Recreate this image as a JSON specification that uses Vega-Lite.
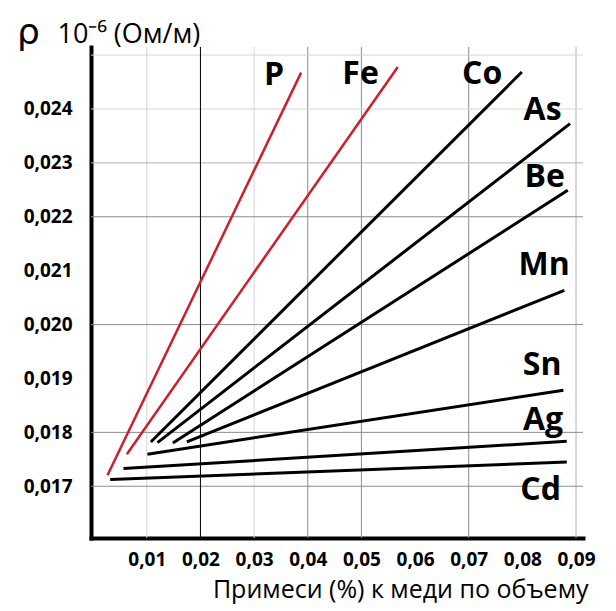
{
  "$schema": "https://vega.github.io/schema/vega-lite/v6.json",
  "width": 492,
  "height": 491,
  "autosize": {"type": "none"},
  "padding": {"left": 91, "top": 47, "right": 33, "bottom": 73},
  "background": "white",
  "title": {"text": "ρ", "anchor": "start", "frame": "group", "dx": -74, "dy": 60, "offset": 0, "baseline": "alphabetic", "font": "DejaVu Sans", "fontSize": 36, "fontWeight": "normal", "color": "black"},
  "config": {
    "view": {"stroke": null},
    "axis": {"labelFont": "Open Sans", "labelFontWeight": "bold", "labelFontSize": 19, "labelColor": "black", "titleFont": "Open Sans", "titleFontWeight": "normal", "titleColor": "black", "domainColor": "black", "domainWidth": 4, "domainCap": "square", "ticks": false, "tickSize": 0, "grid": false, "zindex": 1}
  },
  "datasets": {
    "lines": [
      {"metal": "P", "x": 0.00267, "y": 0.017204}, {"metal": "P", "x": 0.03876, "y": 0.024675},
      {"metal": "Fe", "x": 0.00628, "y": 0.017594}, {"metal": "Fe", "x": 0.05678, "y": 0.024779},
      {"metal": "Co", "x": 0.01075, "y": 0.017822}, {"metal": "Co", "x": 0.0799, "y": 0.024687},
      {"metal": "As", "x": 0.01198, "y": 0.01781}, {"metal": "As", "x": 0.08889, "y": 0.023729},
      {"metal": "Be", "x": 0.01485, "y": 0.017803}, {"metal": "Be", "x": 0.08846, "y": 0.022492},
      {"metal": "Mn", "x": 0.01746, "y": 0.017822}, {"metal": "Mn", "x": 0.08783, "y": 0.020636},
      {"metal": "Sn", "x": 0.01012, "y": 0.017594}, {"metal": "Sn", "x": 0.08765, "y": 0.018781},
      {"metal": "Ag", "x": 0.00565, "y": 0.017328}, {"metal": "Ag", "x": 0.08828, "y": 0.017835},
      {"metal": "Cd", "x": 0.00317, "y": 0.017124}, {"metal": "Cd", "x": 0.08828, "y": 0.017451}
    ],
    "labels": [
      {"metal": "P", "x": 0.03373, "y": 0.02444},
      {"metal": "Fe", "x": 0.04985, "y": 0.024471},
      {"metal": "Co", "x": 0.07249, "y": 0.024471},
      {"metal": "As", "x": 0.08377, "y": 0.02379},
      {"metal": "Be", "x": 0.08414, "y": 0.022553},
      {"metal": "Mn", "x": 0.08405, "y": 0.020915},
      {"metal": "Sn", "x": 0.08368, "y": 0.019059},
      {"metal": "Ag", "x": 0.08386, "y": 0.018039},
      {"metal": "Cd", "x": 0.0834, "y": 0.01674}
    ],
    "vgrid": [
      {"x": 0.01, "level": "light"}, {"x": 0.02, "level": "dark"}, {"x": 0.03, "level": "light"},
      {"x": 0.04, "level": "mid"}, {"x": 0.05, "level": "mid"}, {"x": 0.07, "level": "mid"}, {"x": 0.09, "level": "lightmid"}
    ],
    "hgrid": [
      {"y": 0.017, "level": "mid"}, {"y": 0.018, "level": "mid"}, {"y": 0.02, "level": "mid"}, {"y": 0.022, "level": "mid"},
      {"y": 0.023, "level": "lightmid"}, {"y": 0.024, "level": "light"}, {"y": 0.025, "level": "light"}
    ]
  },
  "layer": [
    {
      "data": {"name": "vgrid"},
      "transform": [{"filter": "datum.level === 'light'"}],
      "mark": {"type": "rule", "color": "#d6d6d6", "strokeWidth": 1},
      "encoding": {"x": {"field": "x", "type": "quantitative", "scale": {"domain": [-0.0004, 0.0913], "nice": false, "zero": false}}}
    },
    {
      "data": {"name": "vgrid"},
      "transform": [{"filter": "datum.level === 'lightmid'"}],
      "mark": {"type": "rule", "color": "#b0b0b0", "strokeWidth": 1},
      "encoding": {"x": {"field": "x", "type": "quantitative", "scale": {"domain": [-0.0004, 0.0913], "nice": false, "zero": false}}}
    },
    {
      "data": {"name": "vgrid"},
      "transform": [{"filter": "datum.level === 'mid'"}],
      "mark": {"type": "rule", "color": "#8c8c8c", "strokeWidth": 1},
      "encoding": {"x": {"field": "x", "type": "quantitative", "scale": {"domain": [-0.0004, 0.0913], "nice": false, "zero": false}}}
    },
    {
      "data": {"name": "hgrid"},
      "transform": [{"filter": "datum.level === 'light'"}],
      "mark": {"type": "rule", "color": "#d6d6d6", "strokeWidth": 1},
      "encoding": {"y": {"field": "y", "type": "quantitative", "scale": {"domain": [0.01604, 0.02515], "nice": false, "zero": false}}}
    },
    {
      "data": {"name": "hgrid"},
      "transform": [{"filter": "datum.level === 'lightmid'"}],
      "mark": {"type": "rule", "color": "#b0b0b0", "strokeWidth": 1},
      "encoding": {"y": {"field": "y", "type": "quantitative", "scale": {"domain": [0.01604, 0.02515], "nice": false, "zero": false}}}
    },
    {
      "data": {"name": "hgrid"},
      "transform": [{"filter": "datum.level === 'mid'"}],
      "mark": {"type": "rule", "color": "#8c8c8c", "strokeWidth": 1},
      "encoding": {"y": {"field": "y", "type": "quantitative", "scale": {"domain": [0.01604, 0.02515], "nice": false, "zero": false}}}
    },
    {
      "data": {"name": "vgrid"},
      "transform": [{"filter": "datum.level === 'dark'"}],
      "mark": {"type": "rule", "color": "#000000", "strokeWidth": 1},
      "encoding": {"x": {"field": "x", "type": "quantitative", "scale": {"domain": [-0.0004, 0.0913], "nice": false, "zero": false}}}
    },
    {
      "data": {"name": "lines"},
      "transform": [{"filter": "datum.metal === 'P' || datum.metal === 'Fe'"}],
      "mark": {"type": "line", "color": "#cc1f2d", "strokeWidth": 2.5},
      "encoding": {
        "x": {"field": "x", "type": "quantitative", "scale": {"domain": [-0.0004, 0.0913], "nice": false, "zero": false}},
        "y": {"field": "y", "type": "quantitative", "scale": {"domain": [0.01604, 0.02515], "nice": false, "zero": false}},
        "detail": {"field": "metal"}
      }
    },
    {
      "data": {"name": "lines"},
      "transform": [{"filter": "datum.metal !== 'P' && datum.metal !== 'Fe'"}],
      "mark": {"type": "line", "color": "#000000", "strokeWidth": 3},
      "encoding": {
        "x": {"field": "x", "type": "quantitative", "scale": {"domain": [-0.0004, 0.0913], "nice": false, "zero": false},
          "axis": {"values": [0.01, 0.02, 0.03, 0.04, 0.05, 0.06, 0.07, 0.08, 0.09], "labelExpr": "replace(format(datum.value, '.2f'), '.', ',')", "labelPadding": 12, "labelFlush": false, "labelOverlap": false,
            "title": "Примеси (%) к меди по объему", "titleFontSize": 25, "titleX": 497, "titleY": 59, "titleAlign": "right", "titleAnchor": "end", "titleBaseline": "alphabetic"}},
        "y": {"field": "y", "type": "quantitative", "scale": {"domain": [0.01604, 0.02515], "nice": false, "zero": false},
          "axis": {"values": [0.017, 0.018, 0.019, 0.02, 0.021, 0.022, 0.023, 0.024], "labelExpr": "replace(format(datum.value, '.3f'), '.', ',')", "labelPadding": 19, "labelFlush": false, "labelOverlap": false,
            "title": "10⁻⁶ (Ом/м)", "titleFontSize": 27, "titleAngle": 0, "titleX": -34, "titleY": -5, "titleAlign": "left", "titleAnchor": "start", "titleBaseline": "alphabetic"}},
        "detail": {"field": "metal"}
      }
    },
    {
      "data": {"name": "labels"},
      "mark": {"type": "text", "font": "Open Sans", "fontWeight": "bold", "fontSize": 32, "align": "center", "baseline": "alphabetic", "color": "black"},
      "encoding": {
        "x": {"field": "x", "type": "quantitative", "scale": {"domain": [-0.0004, 0.0913], "nice": false, "zero": false}},
        "y": {"field": "y", "type": "quantitative", "scale": {"domain": [0.01604, 0.02515], "nice": false, "zero": false}},
        "text": {"field": "metal"}
      }
    }
  ]
}
